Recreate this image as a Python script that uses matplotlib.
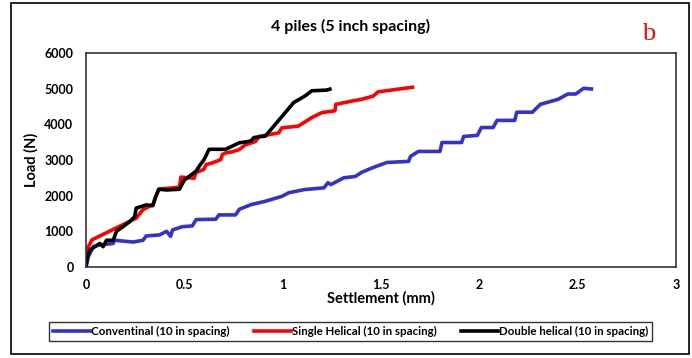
import matplotlib
matplotlib.use("Agg")
import matplotlib.pyplot as plt
from matplotlib.patches import Rectangle

plt.rcParams['font.family'] = ['Lato', 'DejaVu Sans']
plt.rcParams['font.weight'] = 'bold'

# Conventional (10 in spacing)
conv_x = [0, 0.012, 0.037, 0.07, 0.138, 0.146, 0.24, 0.29, 0.306, 0.374, 0.41, 0.43, 0.44,
          0.49, 0.54, 0.56, 0.66, 0.676, 0.76, 0.78, 0.84, 0.91, 0.996, 1.03, 1.11, 1.21,
          1.23, 1.245, 1.31, 1.37, 1.40, 1.46, 1.53, 1.64, 1.65, 1.69, 1.80, 1.81, 1.91,
          1.92, 1.99, 2.01, 2.07, 2.09, 2.18, 2.19, 2.27, 2.31, 2.40, 2.45, 2.49, 2.53, 2.57]
conv_y = [0, 290, 570, 620, 660, 750, 700, 750, 870, 900, 1000, 860, 1040,
          1130, 1150, 1330, 1340, 1460, 1460, 1620, 1750, 1840, 1980, 2080, 2170, 2220,
          2360, 2310, 2500, 2540, 2650, 2790, 2930, 2960, 3100, 3240, 3240, 3490, 3490,
          3660, 3690, 3910, 3910, 4110, 4110, 4340, 4340, 4560, 4700, 4850, 4850, 5010, 4990]

# Single Helical (10 in spacing)
single_x = [0, 0.004, 0.03, 0.255, 0.29, 0.34, 0.355, 0.37, 0.475, 0.483, 0.55, 0.558,
            0.6, 0.61, 0.643, 0.685, 0.693, 0.71, 0.744, 0.778, 0.81, 0.862, 0.88, 0.98,
            0.996, 1.08, 1.148, 1.2, 1.266, 1.27, 1.35, 1.40, 1.46, 1.485, 1.66]
single_y = [0, 480, 760, 1370, 1610, 1750, 1980, 2180, 2240, 2520, 2490, 2640,
            2740, 2870, 2920, 3010, 3150, 3200, 3230, 3290, 3420, 3520, 3660, 3760,
            3900, 3950, 4190, 4330, 4380, 4560, 4650, 4700, 4790, 4910, 5040]

# Double helical (10 in spacing)
double_x = [0, 0.007, 0.02, 0.045, 0.07, 0.087, 0.104, 0.138, 0.155, 0.188, 0.222, 0.247,
            0.255, 0.306, 0.34, 0.355, 0.37, 0.41, 0.475, 0.5, 0.525, 0.56, 0.576, 0.60,
            0.626, 0.71, 0.778, 0.837, 0.854, 0.912, 1.056, 1.115, 1.148, 1.224, 1.24]
double_y = [0, 290, 480, 570, 660, 570, 750, 750, 1000, 1130, 1270, 1410,
            1650, 1740, 1720, 1980, 2180, 2160, 2180, 2440, 2540, 2690, 2830, 3010,
            3300, 3300, 3480, 3530, 3630, 3670, 4610, 4800, 4940, 4960, 4986]

x_ticks = [0, 0.5, 1, 1.5, 2, 2.5, 3]
y_ticks = [0, 1000, 2000, 3000, 4000, 5000, 6000]

fig = plt.figure(figsize=(6.92, 3.58), dpi=100)
ax = fig.add_axes([0.1243, 0.2542, 0.8526, 0.5978])

ax.plot(conv_x, conv_y, color='#3333CC', lw=2.6, label='Conventinal (10 in spacing)')
ax.plot(single_x, single_y, color='#FF0000', lw=2.6, label='Single Helical (10 in spacing)')
ax.plot(double_x, double_y, color='black', lw=2.6, label='Double helical (10 in spacing)')

ax.set_xlim(0, 3)
ax.set_ylim(0, 6000)
ax.set_xticks(x_ticks)
ax.set_xticklabels([str(t) for t in x_ticks])
ax.set_yticks(y_ticks)
ax.tick_params(length=0, labelsize=9, pad=9)
for lab in ax.get_xticklabels() + ax.get_yticklabels():
    lab.set_fontweight('bold')
for sp in ax.spines.values():
    sp.set_linewidth(1.2)
    sp.set_color('#333333')

ax.set_xlabel('Settlement (mm)', fontsize=10.5, fontweight='bold', labelpad=0)
ax.set_ylabel('Load (N)', fontsize=10.5, fontweight='bold', labelpad=4)

fig.text(0.507, 0.925, '4 piles (5 inch spacing)', ha='center', va='center',
         fontsize=11.5, fontweight='bold')
fig.text(0.937, 0.905, 'b', ha='center', va='center', color='red',
         fontsize=19, family=['Liberation Serif', 'DejaVu Serif'], fontweight='normal')

leg = fig.legend(loc='center', bbox_to_anchor=(0.5065, 0.074), ncol=3, fontsize=8.3,
                 frameon=True, fancybox=False, edgecolor='black', handlelength=3.2,
                 handletextpad=0.1, columnspacing=2.1, borderpad=0.35)
leg.get_frame().set_linewidth(1.0)

fig.patches.append(Rectangle((0.0159, 0.0112), 0.98, 0.98, transform=fig.transFigure,
                             fill=False, edgecolor='black', lw=1.2))

fig.savefig('out.png', dpi=100)
